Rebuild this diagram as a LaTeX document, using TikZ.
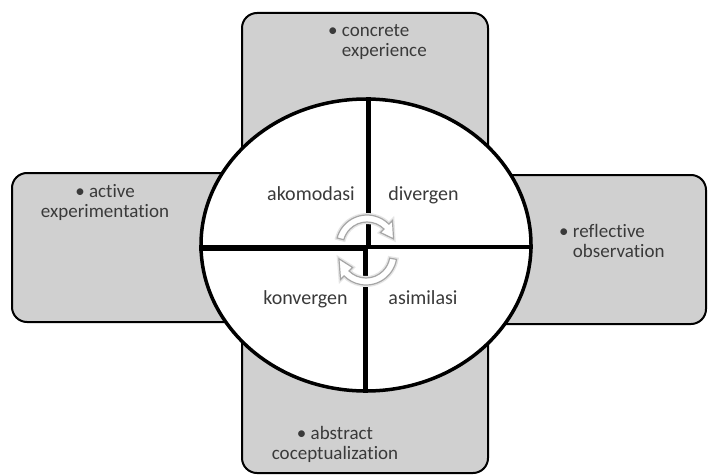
\documentclass[tikz,border=0pt]{standalone}
\usepackage{fontspec}
\setmainfont{Carlito}[Ligatures=NoCommon]
\usetikzlibrary{shapes.geometric}
\definecolor{boxgray}{HTML}{D0D0D0}
\definecolor{txt}{HTML}{3A3A3A}
\tikzset{sidebox/.style={draw,line width=2pt,rounded corners=15pt,fill=boxgray}}
\tikzset{boxtext/.style={text=txt,font=\fontsize{19}{20}\selectfont,inner sep=0pt}}
\tikzset{quadtext/.style={text=txt,font=\fontsize{20}{22}\selectfont,inner sep=0pt,anchor=base}}
\tikzset{divider/.style={draw,line width=5pt}}
\tikzset{turn/.style={fill=white,draw=gray!70,line width=1.2pt,preaction={draw=gray!20,line width=4pt}}}

\begin{document}
\begin{tikzpicture}[x=1pt,y=1pt]
    \useasboundingbox (0,0) rectangle (708,475);

    \draw[sidebox] (242,462) rectangle (488,230);
    \draw[sidebox] (242,230) rectangle (488,2);
    \draw[sidebox] (12,302) rectangle (366,153);
    \draw[sidebox] (366,300) rectangle (706,151);

    % base anchor sits on the last line
    \node[boxtext,anchor=base west,align=left] (concrete) at (328,418)
      {\textbullet\ concrete\\\phantom{\textbullet\ }experience};
    \node[boxtext,anchor=base,align=center] (active) at (105,258)
      {\textbullet\ active\\experimentation};
    \node[boxtext,anchor=base west,align=left] (reflective) at (559,218)
      {\textbullet\ reflective\\\phantom{\textbullet\ }observation};
    \node[boxtext,anchor=base,align=center] (abstract) at (335,16)
      {\textbullet\ abstract\\coceptualization};

    \node[ellipse,draw,fill=white,line width=3.5pt,minimum width=330pt,minimum height=292pt,inner sep=0pt] (wheel) at (366,230) {};
    \coordinate (hub) at (366.5,227.5);

    \draw[divider,line width=6pt] (wheel.west |- 0,227) -- (368,227);
    \draw[divider,line width=4pt] (365,228) -- (wheel.east |- 0,228);
    \draw[divider] (368,227) -- (wheel.north -| 368,0);
    \draw[divider] (365,228) -- (wheel.south -| 365,0);

    \foreach \lbl/\x/\y in {akomodasi/311/275,divergen/423.5/275,konvergen/305.5/171,asimilasi/423/171}{
      \node[quadtext] (\lbl) at (\x,\y) {\lbl};
    }

    \begin{scope}[shift={(367,229)}]
      \draw[turn] (165:31) arc[start angle=165,end angle=45,radius=31] -- (45:36) -- (15:27.5)
        -- (45:19) -- (45:24) arc[start angle=45,end angle=165,radius=24] -- cycle;
    \end{scope}
    \begin{scope}[shift={(366,221)}]
      \draw[turn] (-10:31) arc[start angle=-10,end angle=-135,radius=31] -- (-135:36) -- (-170:27.5)
        -- (-135:19) -- (-135:24) arc[start angle=-135,end angle=-10,radius=24] -- cycle;
    \end{scope}

\end{tikzpicture}
\end{document}
